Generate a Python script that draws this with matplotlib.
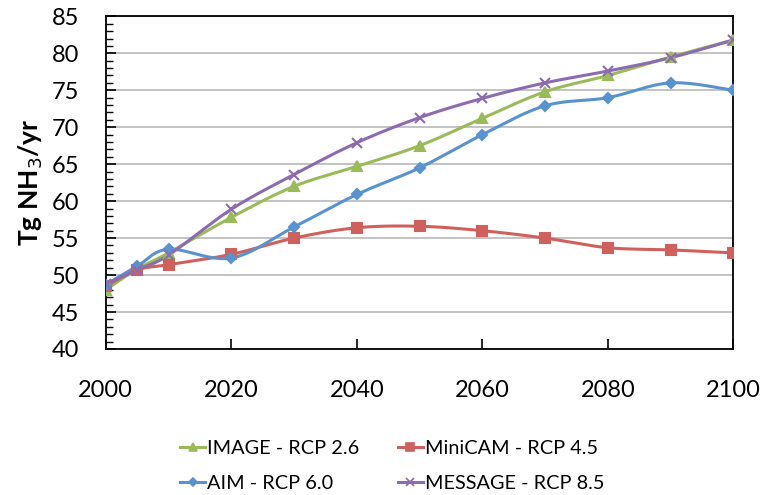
#!/usr/bin/env python3
"""
plot.py

NH3 emission projections (Tg NH3/yr) for the four RCP scenarios, 2000-2100.
Smoothed lines in the style of the original spreadsheet chart.
"""

import numpy as np
import matplotlib
matplotlib.use("Agg")
import matplotlib.pyplot as plt

# === Data ===
years = [2000, 2005, 2010, 2020, 2030, 2040, 2050, 2060, 2070, 2080, 2090, 2100]

image_rcp26 = [48.0, 50.8, 53.0, 57.8, 62.0, 64.7, 67.5, 71.2, 74.8, 77.0, 79.5, 81.8]
minicam_rcp45 = [48.5, 50.7, 51.4, 52.8, 55.0, 56.4, 56.6, 56.0, 55.0, 53.7, 53.4, 53.0]
aim_rcp60 = [48.7, 51.2, 53.5, 52.3, 56.5, 60.9, 64.5, 69.0, 72.9, 74.0, 76.0, 75.0]
message_rcp85 = [48.8, 50.7, 52.7, 58.9, 63.6, 67.9, 71.3, 73.9, 76.0, 77.6, 79.4, 81.8]

labels = ["IMAGE - RCP 2.6", "MiniCAM - RCP 4.5", "AIM - RCP 6.0", "MESSAGE - RCP 8.5"]
colors = ["#9BBB59", "#CF605C", "#5892CF", "#8C6BB1"]
markers = ["^", "s", "D", "x"]
msizes = [7, 7, 5.5, 7]

plt.rcParams['font.family'] = ['Lato', 'DejaVu Sans']


def smooth(xs, ys, n=30):
    """Catmull-Rom style bezier smoothing, like spreadsheet 'smoothed line'."""
    p = np.column_stack([xs, ys]).astype(float)
    p_ext = np.vstack([p[0], p, p[-1]])
    out = []
    for i in range(len(p) - 1):
        p0, p1, p2, p3 = p_ext[i], p_ext[i + 1], p_ext[i + 2], p_ext[i + 3]
        c1 = p1 + (p2 - p0) / 6.0
        c2 = p2 - (p3 - p1) / 6.0
        t = np.linspace(0, 1, n)[:, None]
        seg = ((1 - t) ** 3) * p1 + 3 * ((1 - t) ** 2) * t * c1 + 3 * (1 - t) * t ** 2 * c2 + t ** 3 * p2
        out.append(seg if i == 0 else seg[1:])
    seg = np.vstack(out)
    return seg[:, 0], seg[:, 1]


fig = plt.figure(figsize=(7.72, 4.95), dpi=100)
ax = fig.add_axes([0.137, 0.295, 0.813, 0.672])

series = [image_rcp26, minicam_rcp45, aim_rcp60, message_rcp85]
handles = []
for vals, lab, col, mk, ms in zip(series, labels, colors, markers, msizes):
    sx, sy = smooth(years, vals)
    ax.plot(sx, sy, color=col, lw=2.2, solid_capstyle='round', zorder=3)
    ax.plot(years, vals, linestyle='none', marker=mk, ms=ms, color=col,
            mec=col, mew=1.5, zorder=4)
    h, = ax.plot([], [], color=col, lw=2.2, marker=mk, ms=ms * 0.8, mew=1.2)
    handles.append(h)

ax.set_xlim(2000, 2100)
ax.set_ylim(40, 85)
ax.set_xticks(np.arange(2000, 2101, 20))
ax.set_yticks(np.arange(40, 86, 5))
ax.set_yticks(np.arange(40, 86, 1), minor=True)
ax.yaxis.grid(True, color='#BEBEBE', lw=1.3)
ax.set_axisbelow(True)

ax.tick_params(axis='both', which='major', direction='in', length=7, width=1.2,
               labelsize=17, colors='black')
ax.tick_params(axis='x', pad=22)
ax.tick_params(axis='y', pad=19)
ax.tick_params(axis='y', which='minor', direction='in', length=5, width=1)
for s in ax.spines.values():
    s.set_linewidth(1.3)
    s.set_color('black')

ax.set_ylabel("Tg NH$_3$/yr", fontsize=19, fontweight='bold', labelpad=5)

# legend order: row1 IMAGE, MiniCAM ; row2 AIM, MESSAGE (column-wise filling)
order = [0, 2, 1, 3]
fig.legend([handles[i] for i in order], [labels[i] for i in order],
           loc='center', bbox_to_anchor=(0.508, 0.058), ncol=2, frameon=False,
           fontsize=14.3, handlelength=1.25, handletextpad=0.1, columnspacing=1.95,
           labelspacing=0.9)

plt.savefig("out.png", dpi=100)
